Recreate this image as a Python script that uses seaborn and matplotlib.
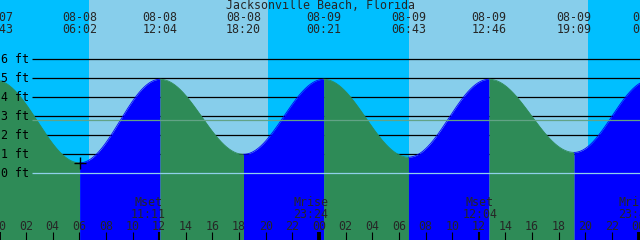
import numpy as np
import pandas as pd
import matplotlib
matplotlib.use("Agg")
import matplotlib.pyplot as plt
import seaborn as sns

# ---------------- data ----------------
title = "Jacksonville Beach, Florida"
tide_dates = ["08-07", "08-08", "08-08", "08-08", "08-09", "08-09", "08-09", "08-09", "08-10"]
tide_times = ["23:43", "06:02", "12:04", "18:20", "00:21", "06:43", "12:46", "19:09", "00:50"]
tide_heights = [4.9, 0.55, 4.95, 1.0, 4.95, 0.85, 4.95, 1.1, 4.9]
moon_events = ["Mset", "Mrise", "Mset", "Mrise"]
moon_dates = ["08-08", "08-08", "08-09", "08-09"]
moon_times = ["11:11", "23:24", "12:04", "23:48"]
sun_dates = ["08-08", "08-08", "08-09", "08-09"]
sun_times = ["06:44", "20:10", "06:45", "20:13"]   # rise, set, rise, set
mean_level = 2.79
level_labels = [0, 1, 2, 3, 4, 5, 6]
hour_ticks = list(range(0, 49, 2))

# ---------------- helpers ----------------
def to_hours(d, t):
    day = int(d.split("-")[1]) - 8
    hh, mm = t.split(":")
    return day * 24 + int(hh) + int(mm) / 60.0

# pixel geometry of the 640x240 canvas
PX_PER_H = 13.32
X0_PX = -0.7
ZERO_PX = 173.3
PX_PER_FT = 19.0

def px2h(x):
    return (x - X0_PX) / PX_PER_H

def py2ft(y):
    return (ZERO_PX - y) / PX_PER_FT

tide_h = [to_hours(d, t) for d, t in zip(tide_dates, tide_times)]
moon_h = [to_hours(d, t) for d, t in zip(moon_dates, moon_times)]
sun_h = [to_hours(d, t) for d, t in zip(sun_dates, sun_times)]

xmin, xmax = px2h(0), px2h(640)
ymin, ymax = py2ft(240), py2ft(0)

sns.set_style("white")
plt.rcParams["font.family"] = ["DejaVu Sans Mono", "DejaVu Sans"]
FS = 8.4

fig = plt.figure(figsize=(6.4, 2.4), dpi=100)
ax = fig.add_axes([0, 0, 1, 1])
ax.set_xlim(xmin, xmax)
ax.set_ylim(ymin, ymax)
ax.axis("off")

NIGHT = "#00BFFF"
DAY = "#87CEEB"
bounds = [xmin - 1] + sun_h + [xmax + 1]
for i in range(len(bounds) - 1):
    ax.axvspan(bounds[i], bounds[i + 1], color=NIGHT if i % 2 == 0 else DAY, lw=0, zorder=0)

# black level lines (behind the tide)
ax.hlines(level_labels[1:], px2h(32), xmax + 1, color="black", lw=0.9, zorder=1)

# tide curve segments (cosine shape between extremes)
for i in range(len(tide_h) - 1):
    t0, t1 = tide_h[i], tide_h[i + 1]
    h0, h1 = tide_heights[i], tide_heights[i + 1]
    tt = np.linspace(t0, t1, 200)
    frac = (tt - t0) / (t1 - t0)
    hh = h0 + (h1 - h0) * (1 - np.cos(np.pi * frac)) / 2
    col = "#0000FF" if h1 > h0 else "#2E8B57"
    seg = pd.DataFrame({"t": tt, "h": hh})
    ax.fill_between(seg["t"], ymin - 1, seg["h"], color=col, lw=0, zorder=2)
    sns.lineplot(data=seg, x="t", y="h", color=col, lw=0.6, ax=ax, zorder=2, legend=False)

# zero and mean lines on top
ax.hlines([0], px2h(32), xmax + 1, color="#8fd0ea", lw=0.9, zorder=3)
ax.hlines([mean_level], px2h(32), xmax + 1, color="#62a386", lw=0.9, zorder=3)

# marker at first low
ax.plot([tide_h[1]], [tide_heights[1]], marker="+", color="black", ms=8, mew=1.0, zorder=4)

# level labels
for lv in level_labels:
    ax.text(px2h(1), py2ft(ZERO_PX - lv * PX_PER_FT + 3.5), f"{lv} ft", ha="left",
            va="baseline", fontsize=FS, color="black", zorder=5)

# title
ax.text(px2h(320), py2ft(9), title, ha="center", va="baseline", fontsize=FS, zorder=5)

# tide event labels at top
for h, d, t in zip(tide_h, tide_dates, tide_times):
    ax.text(h, py2ft(21), d, ha="center", va="baseline", fontsize=FS, zorder=5)
    ax.text(h, py2ft(33), t, ha="center", va="baseline", fontsize=FS, zorder=5)

# moon labels
for h, e, t in zip(moon_h, moon_events, moon_times):
    ax.text(h, py2ft(206), e, ha="center", va="baseline", fontsize=FS, zorder=5)
    ax.text(h, py2ft(217.5), t, ha="center", va="baseline", fontsize=FS, zorder=5)

# hour ticks and labels
for h in hour_ticks:
    if h % 24 == 0:
        w = 2.8
    elif h % 12 == 0:
        w = 1.5
    else:
        w = 0.8
    ax.vlines(h, py2ft(240.5), py2ft(232), color="black", lw=w, zorder=5)
    ax.text(h, py2ft(229.5), f"{h % 24:02d}", ha="center", va="baseline", fontsize=FS, zorder=5)

fig.savefig("out.png", dpi=100)
